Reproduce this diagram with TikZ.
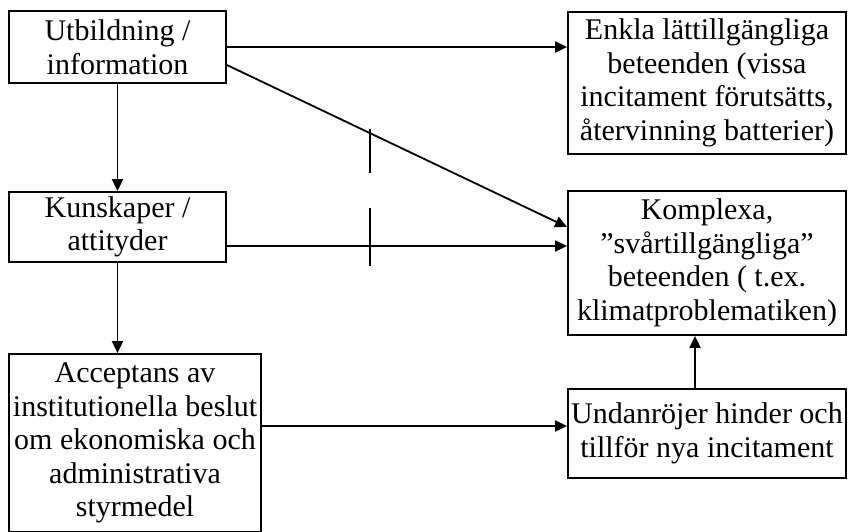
\documentclass[tikz,border=0pt]{standalone}
\usepackage{fontspec}
\setmainfont{Liberation Serif}
\usetikzlibrary{arrows.meta,calc}
\begin{document}
\begin{tikzpicture}[x=1pt,y=-1pt,
  box/.style={draw,line width=1.8pt,align=center,inner sep=0pt,
    font=\fontsize{30}{33.5}\selectfont},
  conn/.style={line width=1.8pt},
  arr/.style={conn,-{Triangle[length=12pt,width=11pt]}},
  bar/.style={line width=1.8pt}]
\useasboundingbox (0,0) rectangle (849,531);
\node[box,minimum width=217pt,minimum height=72pt] (utb) at (117.5,47) {Utbildning /\\information};
\node[box,minimum width=278pt,minimum height=142pt] (enk) at (707,83) {Enkla lättillgängliga\\beteenden (vissa\\incitament förutsätts,\\återvinning batterier)};
\node[box,minimum width=217pt,minimum height=70pt] (kun) at (117.5,227) {Kunskaper /\\attityder};
\node[box,minimum width=278pt,minimum height=144pt] (kom) at (707,263) {Komplexa,\\”svårtillgängliga”\\beteenden ( t.ex.\\klimatproblematiken)};
\node[box,minimum width=252pt,minimum height=178pt] (acc) at (135,443) {Acceptans av\\institutionella beslut\\om ekonomiska och\\administrativa\\styrmedel};
\node[box,minimum width=278pt,minimum height=89pt] (und) at (707,433.5) {Undanröjer hinder och\\tillför nya incitament};
\draw[arr] (utb.east) -- (enk.west |- utb.east);
\draw[arr] ([yshift=-18pt]utb.east) -- ([yshift=36pt]kom.west);
\draw[arr] (utb.south) -- (kun.north);
\coordinate (k1) at ([yshift=-19pt]kun.east);
\draw[arr] (k1) -- (kom.west |- k1);
\draw[arr] (kun.south) -- (kun.south |- acc.north);
\coordinate (a1) at ([yshift=17pt]acc.east);
\draw[arr] (a1) -- (und.west |- a1);
\coordinate (u1) at ([xshift=-12pt]und.north);
\draw[arr] (u1) -- (u1 |- kom.south);
\draw[bar] (370,129) -- (370,173);
\draw[bar] (370,208) -- (370,266);
\end{tikzpicture}
\end{document}
